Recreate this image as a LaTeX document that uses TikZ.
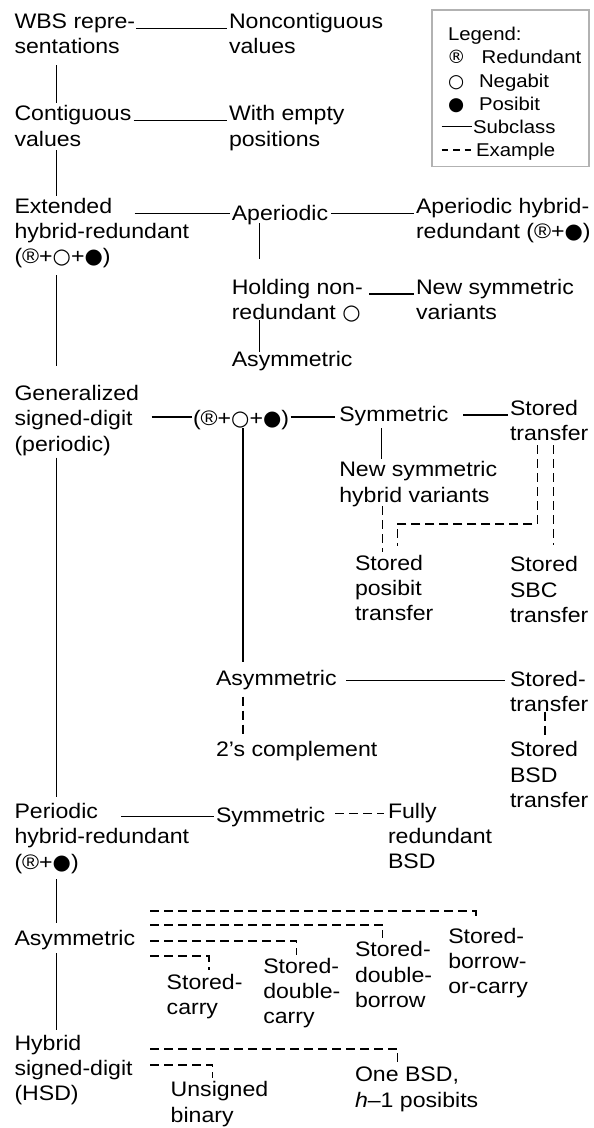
\documentclass[tikz,border=0pt]{standalone}
\usepackage{fontspec}
\setmainfont{Liberation Sans}[FakeStretch=1.1]
\newfontfamily\symf{DejaVu Sans}
\usetikzlibrary{calc}
\newcommand{\myWC}{{\symf ○}}
\newcommand{\myBC}{{\symf ●}}
\newcommand{\myRG}{{\symf ®}}
\newcommand{\mlines}[1]{\begin{tabular}[t]{@{}l@{}}#1\end{tabular}}
\tikzset{
  lbl/.style={anchor=base west, inner sep=0pt, outer sep=0pt,
    font=\fontsize{21pt}{25.3pt}\selectfont},
  leglbl/.style={anchor=base west, inner sep=0pt, outer sep=0pt,
    font=\fontsize{18.5pt}{23.2pt}\selectfont},
  sub/.style={line width=1.3pt},
  ex/.style={line width=1.3pt, dash pattern=on 9pt off 5pt},
  legex/.style={line width=1.3pt, dash pattern=on 6.5pt off 5pt},
  legbox/.style={draw=black!30, line width=1.5pt, inner sep=0pt, outer sep=0pt,
    anchor=north west, minimum width=157pt, minimum height=156.7pt},
}
\begin{document}
\begin{tikzpicture}[x=1pt,y=-1pt]
\useasboundingbox (0,0) rectangle (594,1128);
% ---------- legend
\node[legbox] (legend) at (432,10) {};
\node[leglbl] (legT) at (448,40.7) {Legend:};
\node[leglbl] (legR) at (447,63.9) {\makebox[34.7pt][l]{\myRG}Redundant};
\node[leglbl] (legN) at (448,87.1) {\makebox[31pt][l]{\myWC}Negabit};
\node[leglbl] (legP) at (448,110.3) {\makebox[31pt][l]{\myBC}Posibit};
\node[leglbl] (legS) at (473,133.5) {Subclass};
\node[leglbl] (legE) at (476,156.7) {Example};
\draw[sub] ($(legS.base west)+(-31.3,-6.8)$) -- ($(legS.base west)+(-1.3,-6.8)$);
\draw[legex] ($(legE.base west)+(-34.3,-6.8)$) -- ($(legE.base west)+(-4.3,-6.8)$);
% ---------- nodes
\node[lbl] (wbs)  at (14.5,28.3)  {\mlines{WBS repre-\\sentations}};
\node[lbl] (nonc) at (229,28.3)   {\mlines{Noncontiguous\\values}};
\node[lbl] (cont) at (14.5,120.7) {\mlines{Contiguous\\values}};
\node[lbl] (empt) at (229,120.7)  {\mlines{With empty\\positions}};
\node[lbl] (ext)  at (14.5,213.3) {\mlines{Extended\\hybrid-redundant\\(®+\myWC+\myBC)}};
\node[lbl] (aper) at (231.8,220.7) {Aperiodic};
\node[lbl] (ahr)  at (416,213.3)  {\mlines{Aperiodic hybrid-\\redundant (®+\myBC)}};
\node[lbl] (hold) at (231.8,294)  {\mlines{Holding non-\\redundant \myWC}};
\node[lbl] (nsv)  at (416,294)    {\mlines{New symmetric\\variants}};
\node[lbl] (asa)  at (231.8,366.7) {Asymmetric};
\node[lbl] (gen)  at (14.5,400.5) {\mlines{Generalized\\signed-digit\\(periodic)}};
\node[lbl] (trip) at (193,425)    {(®+\myWC+\myBC)};
\node[lbl] (sym)  at (339.3,421.7) {Symmetric};
\node[lbl] (stt)  at (510,415)    {\mlines{Stored\\transfer}};
\node[lbl] (nshv) at (339.3,476.7) {\mlines{New symmetric\\hybrid variants}};
\node[lbl] (spt)  at (355,570)    {\mlines{Stored\\posibit\\transfer}};
\node[lbl] (ssbc) at (510,571.7)  {\mlines{Stored\\SBC\\transfer}};
\node[lbl] (asg)  at (216,685)    {Asymmetric};
\node[lbl] (stt2) at (510,686)    {\mlines{Stored-\\transfer}};
\node[lbl] (twos) at (216,756.7)  {2’s complement};
\node[lbl] (sbsd) at (510,756.7)  {\mlines{Stored\\BSD\\transfer}};
\node[lbl] (per)  at (14.5,818.5) {\mlines{Periodic\\hybrid-redundant\\(®+\myBC)}};
\node[lbl] (symp) at (216,822)    {Symmetric};
\node[lbl] (frb)  at (388,818.3)  {\mlines{Fully\\redundant\\BSD}};
\node[lbl] (asb)  at (14.5,945)   {Asymmetric};
\node[lbl] (sc)   at (166.7,989)  {\mlines{Stored-\\carry}};
\node[lbl] (sdc)  at (263.3,973.3) {\mlines{Stored-\\double-\\carry}};
\node[lbl] (sdb)  at (355,956.7)  {\mlines{Stored-\\double-\\borrow}};
\node[lbl] (sbc)  at (448.3,943.3) {\mlines{Stored-\\borrow-\\or-carry}};
\node[lbl] (hsd)  at (14.5,1050)  {\mlines{Hybrid\\signed-digit\\(HSD)}};
\node[lbl] (ub)   at (170.7,1096.7) {\mlines{Unsigned\\binary}};
\node[lbl] (obsd) at (355,1081.7) {\mlines{One BSD,\\\textit{h}–1 posibits}};
% ---------- subclass connectors
\draw[sub] ($(wbs.base west)+(42.2,36.7)$) -- ($(cont.base west)+(42.2,-17.7)$);
\draw[sub] ($(cont.base west)+(42.2,29.3)$) -- ($(ext.base west)+(42.2,-17.3)$);
\draw[sub] ($(ext.base west)+(42.2,61.7)$) -- ($(gen.base west)+(42.2,-34.5)$);
\draw[sub] ($(gen.base west)+(42.2,57)$) -- ($(per.base west)+(42.2,-21.5)$);
\draw[sub] ($(per.base west)+(42.2,60.5)$) -- ($(asb.base west)+(42.2,-22)$);
\draw[sub] ($(asb.base west)+(42.2,8)$) -- ($(hsd.base west)+(42.2,-20)$);
\draw[sub] ($(wbs.base west)+(121.5,0)$) -- ($(nonc.base west)+(-2,0)$);
\draw[sub] ($(cont.base west)+(119,0)$) -- ($(empt.base west)+(-2,0)$);
\draw[sub] ($(ext.base west)+(120,0)$) -- ($(aper.base west)+(-2.3,-7.4)$);
\draw[sub] ($(aper.base west)+(99.2,-7.4)$) -- ($(ahr.base west)+(-2,0)$);
\draw[sub] ($(aper.base west)+(27.7,2.3)$) -- ($(hold.base west)+(27.7,-34.7)$);
\draw[sub] ($(hold.base west)+(27.7,26)$) -- ($(asa.base west)+(27.7,-15)$);
\draw[sub] ($(hold.base west)+(137.2,0)$) -- ($(nsv.base west)+(-2,0)$);
\draw[sub] ($(gen.base west)+(137,16.5)$) -- ($(trip.base west)+(-1,-8)$);
\draw[sub] ($(trip.base east)+(1.5,-8)$) -- ($(sym.base west)+(-4.3,-4.7)$);
\draw[sub] ($(sym.base west)+(124,-6.7)$) -- ($(stt.base west)+(-1.7,0)$);
\draw[sub] ($(sym.base west)+(42.4,6.6)$) -- ($(nshv.base west)+(42.4,-17.4)$);
\draw[sub] ($(trip.base west)+(50,3)$) -- ($(asg.base west)+(27,-23.3)$);
\draw[sub] ($(asg.base west)+(130,-4.5)$) -- ($(stt2.base west)+(-5,-5.5)$);
\draw[sub] ($(per.base west)+(106.5,-1.8)$) -- ($(symp.base west)+(-2,-5.3)$);
% ---------- example connectors
\draw[ex] ($(symp.base west)+(119,-8.7)$) -- ($(frb.base west)+(-4.5,-5)$);
\draw[ex] ($(asg.base west)+(27,11.7)$) -- ($(twos.base west)+(27,-18.7)$);
\draw[ex] ($(stt2.base west)+(35,25.7)$) -- ($(sbsd.base west)+(35,-20)$);
\draw[ex] ($(nshv.base west)+(43.4,29.3)$) -- ($(spt.base west)+(27.7,-18.3)$);
\draw[ex] ($(stt.base west)+(27.3,30)$) |- ($(spt.base west)+(42.7,-46)$) -- ($(spt.base west)+(42.7,-24)$);
\draw[ex] ($(stt.base west)+(43.3,30)$) -- ($(ssbc.base west)+(43.3,-26.7)$);
\draw[ex] ($(asb.base west)+(135.5,-34)$) -| ($(sbc.base west)+(27.7,-25)$);
\draw[ex] ($(asb.base west)+(135.5,-20)$) -| ($(sdb.base west)+(27.7,-18.4)$);
\draw[ex] ($(asb.base west)+(135.5,-4)$) -| ($(sdc.base west)+(33.4,-18.3)$);
\draw[ex] ($(asb.base west)+(135.5,11)$) -| ($(sc.base west)+(42.3,-19)$);
\draw[ex] ($(hsd.base west)+(135.5,-1)$) -| ($(obsd.base west)+(42.7,-20)$);
\draw[ex] ($(hsd.base west)+(135.5,15)$) -| ($(ub.base west)+(42,-18.4)$);
\end{tikzpicture}
\end{document}
